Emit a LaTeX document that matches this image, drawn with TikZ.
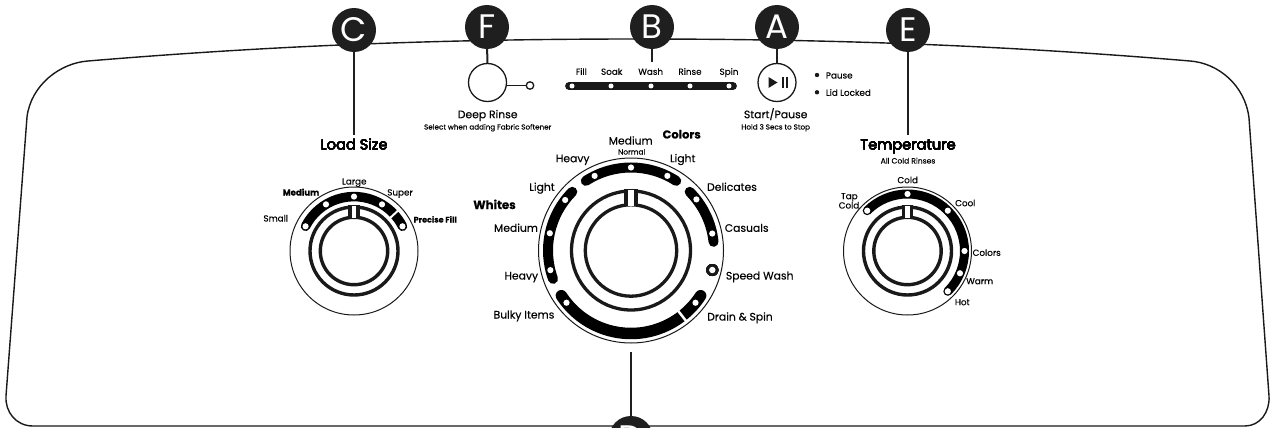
\documentclass[tikz,border=0pt]{standalone}
\usepackage{fontspec}
\setmainfont{Poppins}[FakeBold=0.25]
\newfontfamily\lett{Poppins}
\newcommand{\fs}[1]{\fontsize{#1}{#1}\selectfont}
\tikzset{
  x=1pt,y=-1pt,
  outline/.style={line width=1.4pt,black!90},
  badge/.style={circle,fill=black!88,minimum size=44pt,inner sep=0pt,text=white,font=\lett\fs{34}},
  stem/.style={line width=2pt,black!88},
  thin dial/.style={line width=1pt,black!90},
  band/.style={line cap=round,black},
  txt/.style={inner sep=0pt,text=black,text height=.7em,text depth=0pt},
  lab/.style={txt,font=\fs{8.8}},
  bigl/.style={txt,font=\fs{10.8}},
  head/.style={txt,font=\fs{14.6}},
  tiny/.style={txt,font=\fs{7.2}},
  dotw/.style={circle,fill=white,inner sep=0pt,minimum size=6pt},
}
\newcommand{\dial}[7]{% cx cy R r1 r2 notch thick
  \draw[thin dial] (#1,#2) circle[radius=#3];
  \draw[line width=#7pt,black!90] (#1,#2) circle[radius=#4];
  \draw[line width=#7pt,black!90] (#1,#2) circle[radius=#5];
  \fill[black!90] ({#1-#6},{#2-#4-#7/2}) rectangle ({#1+#6},{#2-#5+#7/2});
  \fill[white] ({#1-#6+#7},{#2-#4-#7/2+.6}) rectangle ({#1+#6-#7},{#2-#5+#7/2-.6});
}
\newcommand{\barc}[6]{% cx cy r width a1 a2
  \draw[band,line width=#4pt] ({#1+#3*cos(#5)},{#2-#3*sin(#5)}) arc[start angle={-(#5)},end angle={-(#6)},radius=#3];
}
\newcommand{\pdot}[4]{% cx cy r angle
  \fill[white] ({#1+#3*cos(#4)},{#2-#3*sin(#4)}) circle[radius=3.1];
}
\begin{document}
\begin{tikzpicture}
\useasboundingbox (0,0) rectangle (1270,428);
\draw[outline] (33,426) .. controls (16,426) and (5,412) .. (6,396)
  -- (27,117)
  .. controls (31,85) and (60,63) .. (88,61)
  .. controls (280,45) and (450,39) .. (638,39)
  .. controls (826,39) and (1000,45) .. (1190,61)
  .. controls (1218,63) and (1245,85) .. (1249,118)
  -- (1269,396)
  .. controls (1270,412) and (1260,426) .. (1245,426) -- cycle;
% badges
\node[badge] (nc) at (354,30) {C};
\node[badge] (nf) at (487,27) {F};
\node[badge] (nb) at (652,27) {B};
\node[badge] (na) at (777,27) {A};
\node[badge] (ne) at (908,30) {E};
\begin{scope}
\clip (0,0) rectangle (1270,428);
\node[badge] (nd) at (631,438) {D};
\end{scope}
% deep rinse
\node[circle,draw=black!90,line width=1.3pt,minimum size=38pt,inner sep=0pt] (deep) at (487.5,82.5) {};
\node[circle,draw=black!90,line width=1.3pt,minimum size=7.5pt,inner sep=0pt] (led) at (530,85.5) {};
\draw[line width=1.3pt,black!90] (deep.east |- led) -- (led);
\draw[stem] (nf) -- (deep);
% progress bar
\coordinate (pa) at (569,86); \coordinate (pb) at (733,86);
\draw[line width=7.8pt,line cap=round,black!90] (pa) -- (pb);
\node[dotw,minimum size=5pt] at (572,86) {};
\node[dotw,minimum size=5pt] at (611,86) {};
\node[dotw,minimum size=5pt] at (651,86) {};
\node[dotw,minimum size=5pt] at (690,86) {};
\node[dotw,minimum size=5pt] at (729,86) {};
\coordinate (bend) at (652,62);
\draw[stem] (nb) -- (bend);
\foreach \t/\x in {Fill/581.3,Soak/611.7,Wash/650.7,Rinse/690,Spin/729}
  \node[lab] at (\x,71.3) {\t};
% start
\node[circle,draw=black!90,line width=1.3pt,minimum size=38pt,inner sep=0pt] (start) at (777,82.5) {};
\draw[stem] (na) -- (start);
\fill[black!90] (768.5,77) -- (777.5,82.5) -- (768.5,88) -- cycle;
\fill[black!90] (781.5,77) rectangle (783.6,88);
\fill[black!90] (785.6,77) rectangle (787.7,88);
\fill[black!90] (817,75) circle[radius=2.2];
\fill[black!90] (817,92.3) circle[radius=2.2];
\node[lab,anchor=west] at (825.7,75) {Pause};
\node[lab,anchor=west] at (825.7,92.3) {Lid Locked};
\node[bigl] at (487.7,114.7) {Deep Rinse};
\node[tiny] at (487.7,126) {Select when adding Fabric Softener};
\node[bigl] at (775.7,114.7) {Start/Pause};
\node[tiny] at (775.7,126) {Hold 3 Secs to Stop};
% load dial
\dial{354}{251}{64}{44}{33.7}{5.8}{3.4}
\barc{354}{251}{54.4}{9.5}{153}{27}
\draw[white,line width=2pt] ({354+48*cos(42.5)},{251-48*sin(42.5)}) -- ({354+61*cos(42.5)},{251-61*sin(42.5)});
\foreach \a in {153,121,90,59,27} \pdot{354}{251}{54.4}{\a}
\node[head] (lsize) at (354,146) {Load Size};
\coordinate (cend) at (354,135);
\draw[stem] (nc) -- (cend);
\node[lab] at (354.3,181) {Large};
\node[lab,font=\fs{8.6}\bfseries] at (301,192) {Medium};
\node[lab] at (400,192) {Super};
\node[lab] at (275.7,218) {Small};
\node[lab,font=\fs{8}\bfseries,anchor=west] at (413.5,219) {Precise Fill};
% centre dial
\dial{631}{250.5}{92.5}{59.5}{45.7}{6.7}{3.3}
\barc{631}{250.5}{83}{10}{123}{57}
\barc{631}{250.5}{83}{10}{45}{6}
\barc{631}{250.5}{83}{10}{135}{200}
\barc{631}{250.5}{83}{11.5}{213}{327}
\draw[white,line width=2.5pt] ({631+76*cos(-52)},{250.5-76*sin(-52)}) -- ({631+90*cos(-52)},{250.5-90*sin(-52)});
\foreach \a in {116,90,64,38,11.8,142.5,168,193.7,219,-39} \pdot{631}{250.5}{83}{\a}
\fill[black!90] (712.3,270) circle[radius=6];
\fill[white] (712.3,270) circle[radius=3.2];
\node[lab,font=\fs{11.5}\bfseries] at (681.7,135) {Colors};
\node[bigl] at (630.7,141) {Medium};
\node[tiny,font=\fs{7.4}] at (631.7,151) {Normal};
\node[bigl] at (572.7,158.7) {Heavy};
\node[bigl] at (682.7,158.7) {Light};
\node[bigl] at (542,187.3) {Light};
\node[bigl] at (732,187.3) {Delicates};
\node[lab,font=\fs{11.8}\bfseries] at (494.5,205.5) {Whites};
\node[bigl] at (516,228.3) {Medium};
\node[bigl] at (746.7,228.3) {Casuals};
\node[bigl] at (521.3,276) {Heavy};
\node[bigl,anchor=west] at (725.7,276) {Speed Wash};
\node[bigl] at (524,315) {Bulky Items};
\node[bigl] at (740,317) {Drain \& Spin};
\coordinate (dtop) at (631,352);
\draw[stem] (nd) -- (dtop);
% temp dial
\dial{907.5}{251}{64}{44}{33.7}{5.8}{3.4}
\barc{907.5}{251}{57}{9}{135}{-45}
\foreach \a in {135,90,45,0,-23,-45} \pdot{907.5}{251}{57}{\a}
\node[head] (temph) at (908,146) {Temperature};
\coordinate (eend) at (908,135);
\draw[stem] (ne) -- (eend);
\node[tiny,font=\fs{7.6}] at (908,160) {All Cold Rinses};
\node[lab] at (907.7,179.7) {Cold};
\node[lab] at (849.3,195.7) {Tap};
\node[lab] at (849,205) {Cold};
\node[lab] at (965.3,202.7) {Cool};
\node[lab] at (986.7,252.3) {Colors};
\node[lab] at (979.7,280.7) {Warm};
\node[lab] at (962.3,301.7) {Hot};
\end{tikzpicture}
\end{document}
